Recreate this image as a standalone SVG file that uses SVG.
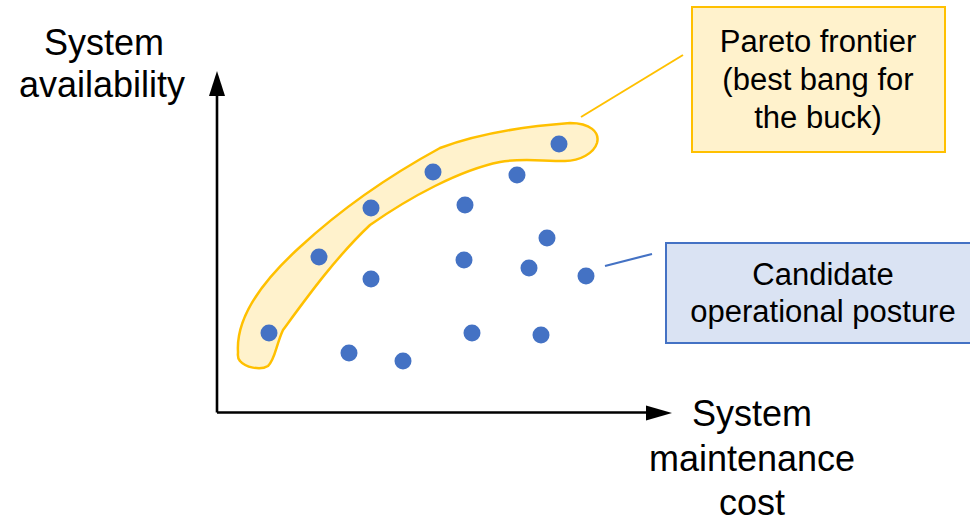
<svg xmlns="http://www.w3.org/2000/svg" width="970" height="522" viewBox="0 0 970 522">
  <style>
    text { font-family: "Liberation Sans", Arial, sans-serif; fill: #000; }
    .axis-label { font-size: 36px; text-anchor: middle; }
    .box-label { font-size: 31px; text-anchor: middle; }
    .axis { stroke: #000; stroke-width: 2.6; fill: none; }
    .dot { fill: #4472C4; }
    .frontier { fill: #FFF2CC; stroke: #FFC000; stroke-width: 2.5; }
    .note-yellow { fill: #FFF2CC; stroke: #FFC000; stroke-width: 2; }
    .note-blue { fill: #DAE3F3; stroke: #4472C4; stroke-width: 2; }
  </style>

  <!-- axes -->
  <g id="axes">
    <path class="axis" d="M217 412.5 V 92 M217 412.5 H 648"/>
    <polygon points="217,71 209,96 225,96" fill="#000"/>
    <polygon points="672,413 646,405.5 646,420.5" fill="#000"/>
    <text class="axis-label" x="104" y="55">System</text>
    <text class="axis-label" x="102" y="97">availability</text>
    <text class="axis-label" x="752" y="426">System</text>
    <text class="axis-label" x="752" y="471">maintenance</text>
    <text class="axis-label" x="752" y="515">cost</text>
  </g>

  <!-- highlighted frontier band -->
  <g id="frontier">
    <path class="frontier" d="M238,352 C236,320 258,285 300,247 C340,210 385,178 440,148 C480,133 530,126 570,123 C590,123 600,132 597,143 C594,153 580,161 565,161 C540,161 520,158 500,162 C460,170 410,197 370,225 C335,258 305,300 283,330 C276,345 275,360 268,366 C260,371 245,367 240,361 C237,358 238,355 238,352 Z"/>
  </g>

  <!-- candidate points -->
  <g id="points">
    <circle class="dot" cx="269" cy="333" r="8.5"/>
    <circle class="dot" cx="319" cy="257" r="8.5"/>
    <circle class="dot" cx="371" cy="208" r="8.5"/>
    <circle class="dot" cx="433" cy="172" r="8.5"/>
    <circle class="dot" cx="559" cy="144" r="8.5"/>
    <circle class="dot" cx="517" cy="175" r="8.5"/>
    <circle class="dot" cx="465" cy="205" r="8.5"/>
    <circle class="dot" cx="547" cy="238" r="8.5"/>
    <circle class="dot" cx="464" cy="260" r="8.5"/>
    <circle class="dot" cx="529" cy="268" r="8.5"/>
    <circle class="dot" cx="586" cy="276" r="8.5"/>
    <circle class="dot" cx="371" cy="279" r="8.5"/>
    <circle class="dot" cx="472" cy="333" r="8.5"/>
    <circle class="dot" cx="541" cy="335" r="8.5"/>
    <circle class="dot" cx="349" cy="353" r="8.5"/>
    <circle class="dot" cx="403" cy="361" r="8.5"/>
  </g>

  <!-- leader lines -->
  <g id="connectors">
    <line x1="581" y1="117" x2="683" y2="55" stroke="#FFC000" stroke-width="2"/>
    <line x1="605" y1="266" x2="652" y2="254" stroke="#4472C4" stroke-width="2.2"/>
  </g>

  <g id="pareto-note">
    <rect class="note-yellow" x="692" y="7" width="253" height="145"/>
    <text class="box-label" x="818" y="52">Pareto frontier</text>
    <text class="box-label" x="818" y="90">(best bang for</text>
    <text class="box-label" x="818" y="128">the buck)</text>
  </g>

  <g id="candidate-note">
    <rect class="note-blue" x="666" y="243" width="310" height="100"/>
    <text class="box-label" x="823" y="285">Candidate</text>
    <text class="box-label" x="823" y="322">operational posture</text>
  </g>
</svg>
